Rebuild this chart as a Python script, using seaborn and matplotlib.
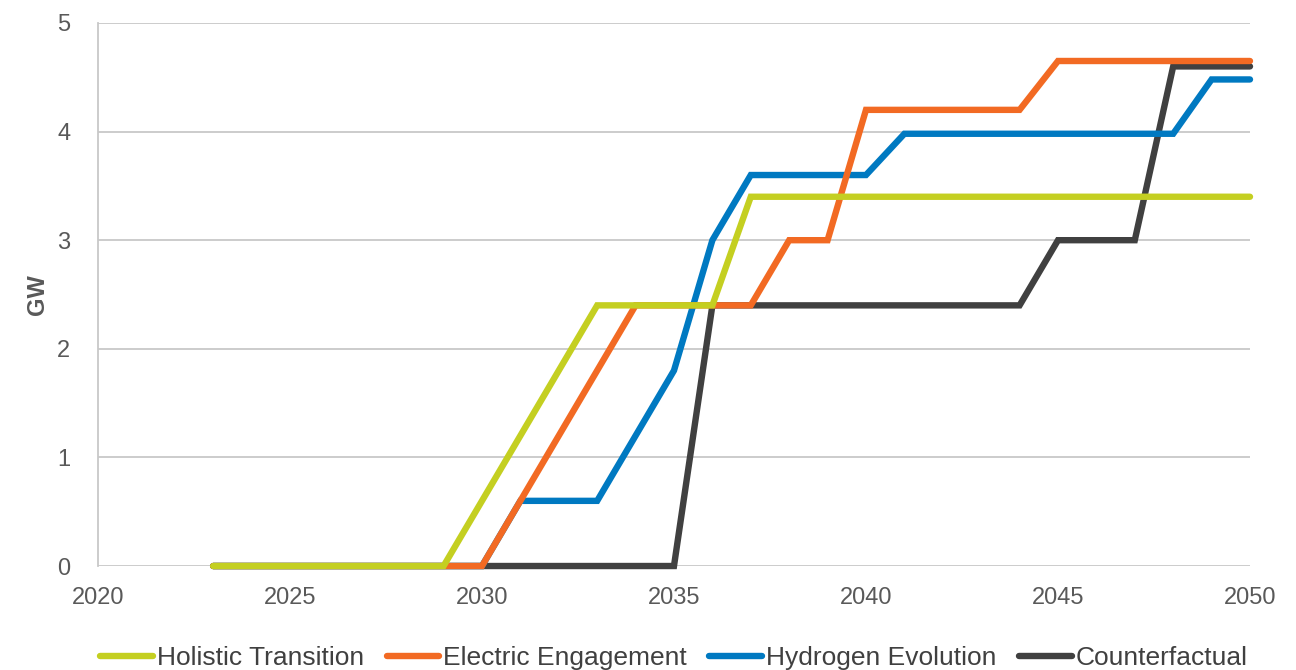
import pandas as pd
import matplotlib.pyplot as plt
import seaborn as sns

years = list(range(2023, 2051))

holistic = [0, 0, 0, 0, 0, 0, 0, 0.6, 1.2, 1.8, 2.4, 2.4, 2.4, 2.4, 3.4,
            3.4, 3.4, 3.4, 3.4, 3.4, 3.4, 3.4, 3.4, 3.4, 3.4, 3.4, 3.4, 3.4]
electric = [0, 0, 0, 0, 0, 0, 0, 0, 0.6, 1.2, 1.8, 2.4, 2.4, 2.4, 2.4,
            3.0, 3.0, 4.2, 4.2, 4.2, 4.2, 4.2, 4.65, 4.65, 4.65, 4.65, 4.65, 4.65]
hydrogen = [0, 0, 0, 0, 0, 0, 0, 0, 0.6, 0.6, 0.6, 1.2, 1.8, 3.0, 3.6,
            3.6, 3.6, 3.6, 3.98, 3.98, 3.98, 3.98, 3.98, 3.98, 3.98, 3.98, 4.48, 4.48]
counterfactual = [0, 0, 0, 0, 0, 0, 0, 0, 0, 0, 0, 0, 0, 2.4, 2.4,
                  2.4, 2.4, 2.4, 2.4, 2.4, 2.4, 2.4, 3.0, 3.0, 3.0, 4.6, 4.6, 4.6]

names = ["Holistic Transition", "Electric Engagement", "Hydrogen Evolution", "Counterfactual"]
colors = ["#C4CF21", "#F26A23", "#0079C1", "#404040"]

df = pd.concat([
    pd.DataFrame({"year": years, "GW": vals, "scenario": name})
    for name, vals in zip(names, [holistic, electric, hydrogen, counterfactual])
])

sns.set_style("white")
plt.rcParams['font.family'] = ['Liberation Sans', 'DejaVu Sans']

fig, ax = plt.subplots(figsize=(12.96, 6.70), dpi=100)
fig.subplots_adjust(left=0.0756, right=0.9645, top=0.9657, bottom=0.1552)

# draw order: counterfactual at the bottom, holistic on top
draw_order = ["Counterfactual", "Hydrogen Evolution", "Electric Engagement", "Holistic Transition"]
sns.lineplot(data=df, x="year", y="GW", hue="scenario", hue_order=draw_order,
             palette=dict(zip(names, colors)), linewidth=4.6, ax=ax, legend=False,
             solid_capstyle="round", solid_joinstyle="miter", clip_on=False)

ax.set_xlim(2020, 2050)
ax.set_ylim(0, 5)
ax.set_xticks(range(2020, 2051, 5))
ax.set_yticks(range(0, 6))
ax.yaxis.grid(True, color="#C8C8C8", linewidth=1.3)
ax.set_axisbelow(True)
for s in ["top", "right", "bottom"]:
    ax.spines[s].set_visible(False)
ax.spines["left"].set_color("#C8C8C8")
ax.spines["left"].set_linewidth(1.3)
ax.tick_params(axis="x", direction="out", length=6, width=1.3, color="#C8C8C8",
               labelsize=17, labelcolor="#595959", pad=9)
ax.tick_params(axis="y", length=0, labelsize=17, labelcolor="#595959", pad=20)
ax.set_xlabel("")
ax.set_ylabel("GW", fontsize=17, fontweight="bold", color="#595959", labelpad=6)

handles = [plt.Line2D([], [], color=c, linewidth=4.6, solid_capstyle="round") for c in colors]
ax.legend(handles, names, loc="center", bbox_to_anchor=(0.5, -0.17), ncol=4,
          frameon=False, handlelength=2.0, handletextpad=0.15, columnspacing=0.85,
          fontsize=19, labelcolor="#404040")

fig.savefig("out.png")
